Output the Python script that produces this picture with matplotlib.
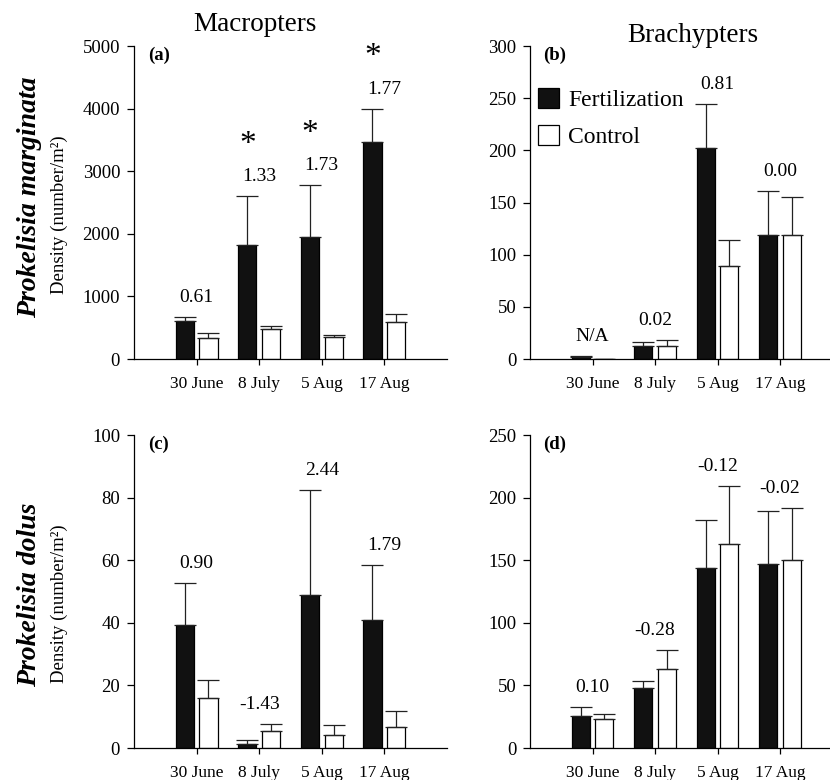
import numpy as np
import matplotlib.pyplot as plt
from matplotlib.patches import Patch

plt.rcParams['font.family'] = ['Liberation Serif', 'DejaVu Serif']

dates = ['30 June', '8 July', '5 Aug', '17 Aug']

# (a) macropters, P. marginata
a_fert = [615, 1820, 1945, 3470]
a_fert_se = [57, 788, 838, 530]
a_ctrl = [336, 480, 347, 592]
a_ctrl_se = [85, 48, 32, 128]
a_eff = ['0.61', '1.33', '1.73', '1.77']
a_sig = [False, True, True, True]

# (b) brachypters, P. marginata
b_fert = [1.6, 12.2, 202, 118.6]
b_fert_se = [1.0, 3.8, 42.6, 42.9]
b_ctrl = [0, 12.2, 89.2, 118.6]
b_ctrl_se = [0, 5.7, 25.0, 36.5]
b_eff = ['N/A', '0.02', '0.81', '0.00']

# (c) macropters, P. dolus
c_fert = [39.3, 1.3, 49.0, 40.9]
c_fert_se = [13.5, 1.3, 33.4, 17.7]
c_ctrl = [16.1, 5.3, 4.3, 6.7]
c_ctrl_se = [5.6, 2.3, 3.2, 5.2]
c_eff = ['0.90', '-1.43', '2.44', '1.79']

# (d) brachypters, P. dolus
d_fert = [25.9, 48.0, 143.4, 146.6]
d_fert_se = [7.1, 5.6, 38.9, 42.4]
d_ctrl = [23.2, 63.4, 162.8, 150.3]
d_ctrl_se = [4.3, 15.2, 46.7, 41.6]
d_eff = ['0.10', '-0.28', '-0.12', '-0.02']

fig = plt.figure(figsize=(8.3, 7.8), dpi=100)
ax_a = fig.add_axes([0.1614, 0.5397, 0.3771, 0.4013])
ax_b = fig.add_axes([0.6386, 0.5397, 0.3614, 0.4013])
ax_c = fig.add_axes([0.1614, 0.0410, 0.3771, 0.4013])
ax_d = fig.add_axes([0.6386, 0.0410, 0.3614, 0.4013])

x = np.arange(1, len(dates) + 1)
w = 0.29
off = 0.19


def panel(ax, fert, fse, ctrl, cse, eff, ymax, ystep, letter, xmax, sig=None):
    ax.bar(x - off, fert, w, color='#111111', edgecolor='black', linewidth=0.9,
           yerr=[np.zeros(4), fse], capsize=8,
           error_kw=dict(ecolor='#222222', elinewidth=0.9, capthick=0.9))
    ax.bar(x + off, ctrl, w, color='white', edgecolor='black', linewidth=0.9,
           yerr=[np.zeros(4), cse], capsize=8,
           error_kw=dict(ecolor='#222222', elinewidth=0.9, capthick=0.9))
    # effect sizes sit above the taller error bar of each date
    tops = np.maximum(np.add(fert, fse), np.add(ctrl, cse))
    for i in range(4):
        ax.annotate(eff[i], (x[i], tops[i]), xytext=(0, 14),
                    textcoords='offset points', ha='center', va='center',
                    fontsize=14)
        if sig is not None and sig[i]:
            ax.annotate('*', (x[i] - off, tops[i]), xytext=(0, 37),
                        textcoords='offset points', ha='center', va='center',
                        fontsize=24, fontweight='light')
    ax.set_xlim(0, xmax)
    ax.set_ylim(0, ymax)
    ax.set_yticks(np.arange(0, ymax + 1, ystep))
    ax.set_xticks(x)
    ax.set_xticklabels(dates)
    for s in ['top', 'right']:
        ax.spines[s].set_visible(False)
    for s in ['left', 'bottom']:
        ax.spines[s].set_linewidth(0.9)
    ax.tick_params(axis='y', direction='out', length=5, width=0.9,
                   labelsize=13.5, pad=5)
    ax.tick_params(axis='x', direction='out', length=4, width=0.9,
                   labelsize=12.5, pad=8)
    ax.text(0.045, 0.97, letter, transform=ax.transAxes, fontsize=13.5,
            fontweight='bold', ha='left', va='center')


panel(ax_a, a_fert, a_fert_se, a_ctrl, a_ctrl_se, a_eff, 5000, 1000, '(a)', 5, a_sig)
panel(ax_b, b_fert, b_fert_se, b_ctrl, b_ctrl_se, b_eff, 300, 50, '(b)', 4.8)
panel(ax_c, c_fert, c_fert_se, c_ctrl, c_ctrl_se, c_eff, 100, 20, '(c)', 5)
panel(ax_d, d_fert, d_fert_se, d_ctrl, d_ctrl_se, d_eff, 250, 50, '(d)', 4.8)

for ax in (ax_a, ax_c):
    ax.set_ylabel('Density (number/m²)', fontsize=13.5)
    ax.yaxis.set_label_coords(-0.211, 0.46)

fig.text(0.307, 0.968, 'Macropters', fontsize=19.5, ha='center', va='center')
fig.text(0.835, 0.955, 'Brachypters', fontsize=19.5, ha='center', va='center')
fig.text(0.036, 0.747, 'Prokelisia marginata', fontsize=20, rotation=90,
         fontweight='bold', fontstyle='italic', ha='center', va='center')
fig.text(0.036, 0.238, 'Prokelisia dolus', fontsize=20, rotation=90,
         fontweight='bold', fontstyle='italic', ha='center', va='center')

handles = [Patch(facecolor='#111111', edgecolor='black', linewidth=0.9),
           Patch(facecolor='white', edgecolor='black', linewidth=0.9)]
ax_b.legend(handles, ['Fertilization', 'Control'], loc='upper left',
            bbox_to_anchor=(0.025, 0.865), frameon=False, fontsize=17,
            handlelength=0.9, handleheight=0.9, handletextpad=0.4,
            labelspacing=0.6, borderpad=0, borderaxespad=0)

fig.savefig('out.png', dpi=100)
